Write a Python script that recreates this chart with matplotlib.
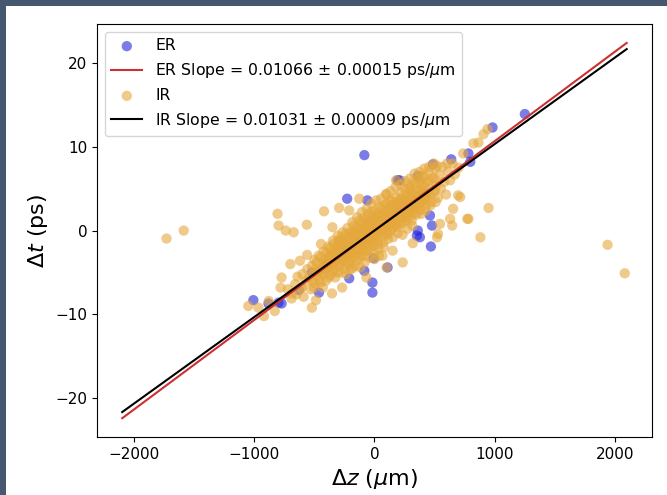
import numpy as np
import matplotlib.pyplot as plt
from matplotlib.patches import Rectangle

# ========== data ==========
er_slope = 0.01066
er_err = 0.00015
ir_slope = 0.01031
ir_err = 0.00009
fit_range = [-2100, 2100]

# ER events: dz (um), dt (ps)
er_dz = [-84, -227, -59, 193, 210, 361, 487, 639, 782, 798, 983, 1252,
         462, 479, 361, 378, 470, 353, 109, -8, -84, -210, -17, -17,
         -462, -630, -882, -773, -798, -1008,
         -300, -150, 0, 150, 250, -400, 100, -50, 300, 200, -250, 420, -520]
er_dt = [9.0, 3.8, 3.6, 6.0, 6.0, 6.5, 7.9, 8.5, 9.2, 8.2, 12.3, 13.9,
         1.8, 0.6, 0.0, -0.8, -1.9, -0.6, -4.4, -3.3, -4.8, -5.7, -6.2, -7.4,
         -7.4, -7.1, -8.7, -8.7, -8.6, -8.3,
         -3.0, -1.5, 0.0, 1.5, 3.0, -4.0, 0.5, -0.8, 2.8, 2.5, -2.8, 4.2, -5.0]

# IR events: dense core
ir_core_dz = [-720, -690, -660, -650, -640, -610, -600, -590, -570, -560, -545, -530, -520, -505,
              -495, -480, -470, -460, -450, -440, -430, -420, -410, -400, -395, -385, -380, -370,
              -360, -355, -345, -340, -330, -325, -315, -310, -300, -295, -290, -280, -275, -268,
              -260, -255, -248, -240, -235, -228, -220, -215, -210, -202, -198, -190, -185, -178,
              -172, -168, -160, -155, -150, -145, -138, -130, -125, -120, -114, -108, -102, -96,
              -90, -85, -80, -74, -68, -62, -58, -52, -46, -40, -35, -28, -22, -16, -10, -5,
              0, 6, 12, 18, 24, 30, 36, 42, 48, 54, 60, 66, 72, 78, 84, 90, 96, 102, 108, 114,
              120, 126, 132, 138, 145, 152, 158, 165, 172, 178, 185, 192, 198, 205, 212, 218, 225,
              232, 240, 246, 253, 260, 268, 275, 282, 290, 298, 305, 312, 320, 328, 335, 342, 350,
              358, 366, 375, 383, 392, 400, 410, 418, 426, 435, 444, 452, 462, 472, 482, 492, 505,
              515, 528, 540, 552, 566, 580, 596, 612, 630, 650, 670, 700,
              -280, -250, -230, -205, -180, -165, -140, -118, -100, -88, -70, -55, -44, -30, -18,
              -8, 3, 10, 20, 28, 40, 52, 64, 76, 88, 100, 115, 128, 140, 156, 170, 188, 200, 215,
              230, 245, 262, 280, 300, 318, 340, 362, 380, 405, 430, -300, -320, -350, -375, -400,
              -425, -455, -490, -515]
ir_core_dt = [-7.0, -8.1, -6.4, -7.6, -5.5, -6.8, -5.2, -7.9, -6.0, -4.6, -5.6, -7.0, -4.2, -5.1,
              -6.3, -3.8, -4.9, -5.9, -3.2, -4.4, -6.8, -3.6, -5.2, -2.6, -4.1, -3.3, -5.6, -2.1,
              -4.0, -3.0, -4.8, -1.6, -2.9, -3.7, -5.0, -2.3, -1.2, -3.4, -4.2, -2.0, -0.8, -2.8,
              -3.6, -1.5, -4.6, -0.4, -2.4, -3.1, -1.1, -1.9, -4.0, -0.2, -2.7, -1.4, -3.3, -0.7,
              0.6, -2.2, -1.0, -3.6, 0.1, -1.7, -2.5, -0.5, 1.2, -1.3, -2.9, 0.3, -0.9, -2.0,
              1.5, -0.3, -1.6, 0.8, -2.4, 0.0, -1.1, 2.0, -0.6, 1.0, -1.9, 0.4, -0.8, 1.7, -0.2, -1.4,
              0.9, 2.4, -0.5, 0.3, 1.6, -1.2, 0.7, 2.8, -0.1, 1.2, 0.2, 2.0, -0.7, 1.0, 3.0, 0.4, 1.8, -0.3, 1.3, 2.6,
              0.6, 3.5, 1.5, 0.0, 2.2, 1.0, 3.1, 0.5, 2.0, 4.0, 1.3, 2.8, 0.8, 3.4, 1.9, 4.5, 1.0,
              2.6, 3.8, 1.7, 5.0, 2.9, 1.2, 4.0, 2.3, 5.4, 3.3, 1.8, 4.4, 2.7, 5.8, 3.6, 2.1, 4.9,
              3.0, 6.2, 4.1, 2.5, 5.3, 3.6, 6.5, 4.5, 2.9, 5.8, 4.0, 7.0, 5.0, 3.4, 6.3, 4.6, 7.4,
              5.4, 3.9, 6.6, 5.0, 7.6, 5.8, 4.3, 7.0, 6.0, 8.0, 6.7, 7.5,
              -2.6, -2.2, -1.8, -1.6, -1.9, -0.3, -1.2, -0.4, -1.5, -0.9, -0.2, 0.5, -0.3, -1.0, 0.2,
              0.6, -0.3, 1.0, -0.2, 0.8, 0.3, 0.9, 1.4, 0.5, 1.6, 1.0, 1.7, 0.9, 1.8, 2.0, 1.3, 2.3, 2.0, 2.8,
              2.0, 3.0, 2.5, 3.4, 2.6, 3.5, 3.3, 4.0, 3.4, 4.6, 4.2, -3.0, -2.1, -3.9, -3.1, -4.5,
              -3.9, -4.8, -4.6, -6.0]

# IR events: more of the packed middle of the band
ir_fill_dz = [-500, -505, -480, -465, -450, -440, -425, -415, -405, -385, -378, -365, -368,
              -345, -338, -332, -326, -305, -300, -292, -286, -298, -265, -262, -258, -252, -245, -238,
              -225, -222, -218, -212, -206, -200, -185, -182, -176, -172, -166, -160,
              -145, -142, -136, -132, -128, -122, -118, -105, -102, -98, -94, -90, -86, -82,
              -65, -62, -58, -54, -50, -46, -42, -25, -22, -18, -14, -10, -6, -2, 2,
              15, 18, 22, 26, 30, 34, 38, 55, 58, 62, 66, 70, 74, 78,
              95, 98, 102, 106, 110, 114, 135, 138, 142, 146, 150, 154,
              175, 178, 182, 186, 190, 194, 215, 218, 222, 226, 230, 234,
              255, 258, 262, 266, 270, 274, 295, 298, 302, 306, 310, 314,
              335, 338, 342, 346, 350, 375, 378, 382, 386, 390,
              415, 418, 422, 426, 455, 458, 462, 466, 495, 500, 505, 510]
ir_fill_dt = [-3.5, -6.8, -5.3, -3.0, -6.2, -5.1, -2.5, -4.6, -6.0, -1.9, -4.3, -5.3, -3.0,
              -1.2, -2.6, -4.5, -5.6, -0.6, -2.0, -3.9, -5.0, -1.3, -0.2, -1.2, -2.5, -3.2, -4.0, -5.2,
              0.3, -0.8, -1.6, -2.8, -3.6, -4.6, 1.0, -0.3, -1.2, -2.5, -3.0, -4.2,
              1.6, 0.5, -0.4, -1.8, -2.2, -3.3, -4.4, 2.2, 1.0, 0.2, -0.6, -2.4, -3.0, -3.8,
              2.6, 1.4, 0.8, -0.3, -1.5, -2.3, -3.2, 3.2, 2.2, 1.2, 0.4, -0.6, -1.8, -2.6, -3.4,
              3.6, 2.0, 1.3, -0.6, -1.6, -2.2, -3.0, 3.8, 2.6, 1.8, 0.9, -0.2, -1.4, -2.0,
              4.3, 3.2, 2.4, 0.8, -0.4, -1.0, 4.7, 3.6, 2.8, 1.4, 0.3, -0.8,
              5.2, 3.4, 2.5, 1.8, 0.4, -0.3, 5.5, 3.8, 3.2, 1.5, 0.8, -0.5,
              5.9, 4.4, 3.6, 2.2, 1.5, 0.2, 6.2, 4.8, 4.0, 2.3, 1.2, 0.6,
              6.8, 5.5, 4.3, 2.8, 1.9, 7.0, 5.8, 4.8, 3.3, 2.0,
              7.4, 5.2, 3.7, 2.4, 7.6, 6.0, 4.3, 3.0, 8.0, 6.2, 4.8, 3.4]

# IR events: scattered ones around the core
ir_out_dz = [-1731, -1588, 1941, 2084,
             -807, -798, -739, -672, -563, -420, -294, -210, -126, 101, 294, 403, 521, 605,
             739, 824, 908, 941, 866, 714, 655, 630, 782, 950, 882, 521, 546, 647, 529, 319,
             235, 151, 67, 101, -67, -185, -269, -353, -487, -521, -773, -782, -689, -966, -605,
             -1050, -920, -880, -830, -700, -445, -350, 697, 773, 180, -560, -620]
ir_out_dt = [-0.95, 0.0, -1.7, -5.1,
             2.0, 0.6, 0.0, -0.2, 0.7, 2.3, 2.7, 2.4, 3.8, 4.4, 5.1, 6.3, 7.7, 8.0,
             9.2, 10.4, 11.5, 12.1, 10.5, 4.0, 2.6, 1.4, 1.4, 2.7, -0.8, -0.8, 0.8, 0.6, -0.4, -1.5,
             -3.8, -2.4, -3.0, -4.4, -5.6, -4.5, -6.8, -7.5, -8.3, -9.2, -5.6, -6.8, -7.5, -9.2, -6.8,
             -9.0, -10.2, -8.4, -9.6, -4.0, -1.6, 0.4, 4.2, 1.4, 6.0, -2.9, -3.6]
# =================================================

ir_dz = ir_core_dz + ir_fill_dz + ir_out_dz
ir_dt = ir_core_dt + ir_fill_dt + ir_out_dt

fig = plt.figure(figsize=(6.67, 4.95), dpi=100, facecolor='#465870')
# white page inside the dark frame of the screenshot
fig.add_artist(Rectangle((6 / 667, 0), 1 - 6 / 667, 1 - 6 / 495,
                         transform=fig.transFigure, facecolor='white', edgecolor='none', zorder=-1))

ax = fig.add_axes([0.1454, 0.1172, 0.832, 0.834])

x_fit = np.array(fit_range)
ax.scatter(er_dz, er_dt, s=55, color='#2525d8', alpha=0.6, edgecolors='none', label='ER')
ax.plot(x_fit, er_slope * x_fit, color='#cc3030', lw=1.5,
        label=f'ER Slope = {er_slope:.5f} $\\pm$ {er_err:.5f} ps/$\\mu$m')
ax.scatter(ir_dz, ir_dt, s=55, color='#e5a83c', alpha=0.6, edgecolors='none', label='IR')
ax.plot(x_fit, ir_slope * x_fit, color='black', lw=1.5,
        label=f'IR Slope = {ir_slope:.5f} $\\pm$ {ir_err:.5f} ps/$\\mu$m')

ax.set_xlabel(r'$\Delta z$ ($\mu$m)', fontsize=16)
ax.set_ylabel(r'$\Delta t$ (ps)', fontsize=16)
ax.tick_params(labelsize=11)
ax.legend(loc='upper left', fontsize=11.3)

fig.savefig('out.png', dpi=100, facecolor=fig.get_facecolor())
